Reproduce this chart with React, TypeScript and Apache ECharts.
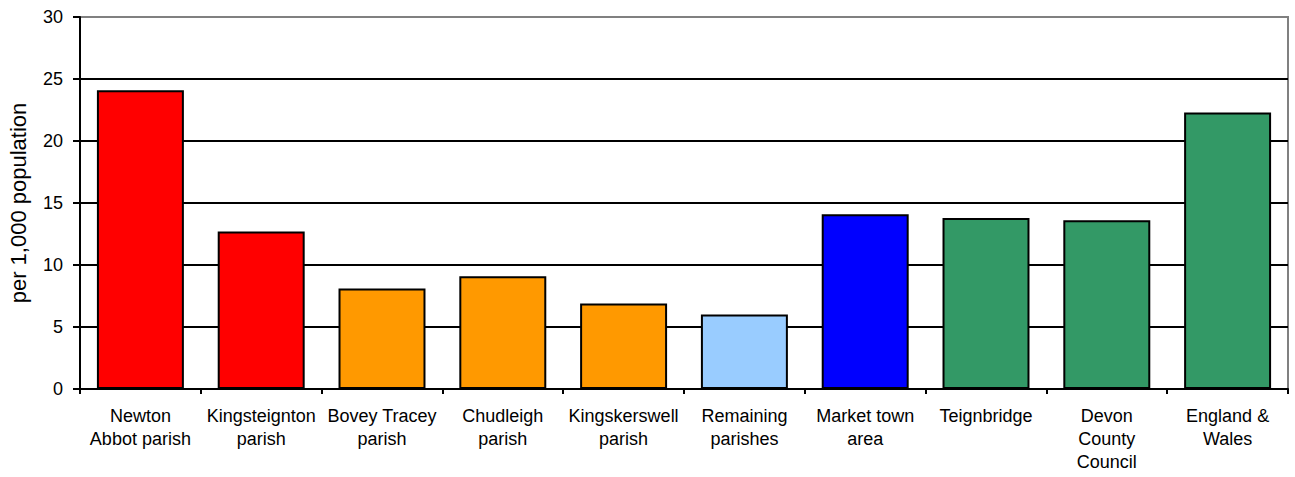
import React, { useEffect, useRef } from "react";
import * as echarts from "echarts";

const categories = [
  "Newton\nAbbot parish",
  "Kingsteignton\nparish",
  "Bovey Tracey\nparish",
  "Chudleigh\nparish",
  "Kingskerswell\nparish",
  "Remaining\nparishes",
  "Market town\narea",
  "Teignbridge",
  "Devon\nCounty\nCouncil",
  "England &\nWales",
];
const values = [24.1, 12.7, 8.1, 9.1, 6.9, 6.0, 14.1, 13.8, 13.6, 22.3];
const barColors = [
  "#FF0000",
  "#FF0000",
  "#FF9900",
  "#FF9900",
  "#FF9900",
  "#99CCFF",
  "#0000FF",
  "#339966",
  "#339966",
  "#339966",
];
const yAxisTitle = "per 1,000 population";

export default function App() {
  const ref = useRef<HTMLDivElement>(null);
  useEffect(() => {
    document.body.style.margin = "0";
    const chart = echarts.init(ref.current!, undefined, { renderer: "svg" });
    const font = "'Liberation Sans', Arial, sans-serif";
    chart.setOption({
      animation: false,
      backgroundColor: "#ffffff",
      grid: {
        left: 80,
        right: 7,
        top: 17,
        bottom: 88,
        containLabel: false,
        outerBoundsMode: "none",
        show: true,
        borderColor: "#808080",
        borderWidth: 2,
        backgroundColor: "transparent",
      },
      xAxis: {
        type: "category",
        data: categories,
        axisLine: { show: true, lineStyle: { color: "#000", width: 2 } },
        axisTick: {
          show: true,
          alignWithLabel: false,
          length: 5,
          lineStyle: { color: "#000", width: 2 },
        },
        axisLabel: {
          color: "#000",
          fontFamily: font,
          fontSize: 18,
          lineHeight: 23,
          margin: 15,
          interval: 0,
        },
      },
      yAxis: {
        type: "value",
        min: 0,
        max: 30,
        interval: 5,
        name: yAxisTitle,
        nameLocation: "middle",
        nameGap: 51,
        nameRotate: 90,
        nameTextStyle: { color: "#000", fontFamily: font, fontSize: 22 },
        axisLine: { show: true, lineStyle: { color: "#000", width: 2 } },
        axisTick: { show: true, length: 7, lineStyle: { color: "#000", width: 2 } },
        axisLabel: {
          color: "#000",
          fontFamily: font,
          fontSize: 18,
          margin: 17,
        },
        splitLine: {
          show: true,
          showMaxLine: false,
          lineStyle: { color: "#000", width: 2 },
        },
      },
      series: [
        {
          type: "bar",
          barCategoryGap: "28%",
          data: values.map((v, i) => ({
            value: v,
            itemStyle: { color: barColors[i] },
          })),
          itemStyle: { borderColor: "#000", borderWidth: 2 },
        },
      ],
    });
    return () => chart.dispose();
  }, []);
  return <div ref={ref} style={{ width: 1295, height: 477 }} />;
}
